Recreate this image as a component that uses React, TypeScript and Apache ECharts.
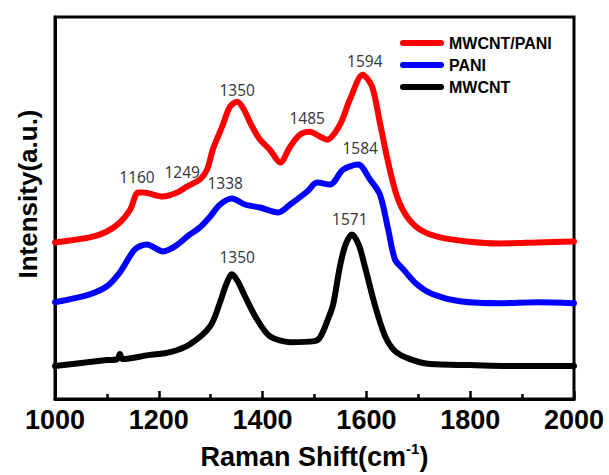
import React, { useEffect, useRef } from "react";
import * as echarts from "echarts";

// Wavenumber (cm-1) / intensity (a.u.) pairs
const mwcntPaniX = [1000, 1067, 1100, 1125, 1145, 1160, 1170, 1208, 1235, 1254, 1279, 1293, 1304, 1322, 1337, 1351, 1362, 1380, 1395, 1414, 1434, 1453, 1472, 1491, 1511, 1524, 1549, 1568, 1593, 1611, 1626, 1642, 1659, 1678, 1703, 1742, 1794, 1857, 1930, 2000];
const mwcntPaniY = [157, 162, 168, 177, 190, 207, 207, 203, 207, 213, 220, 230, 250, 273, 293, 298, 292, 273, 260, 250, 237, 253, 265, 268, 263, 260, 275, 300, 325, 313, 277, 237, 203, 183, 170, 162, 158, 156, 157, 158];

const paniX = [1000, 1067, 1100, 1125, 1154, 1177, 1208, 1231, 1260, 1279, 1299, 1318, 1341, 1366, 1395, 1430, 1453, 1486, 1505, 1530, 1555, 1584, 1607, 1626, 1642, 1655, 1671, 1697, 1728, 1780, 1857, 1930, 2000];
const paniY = [97, 105, 113, 127, 150, 155, 148, 153, 165, 172, 183, 195, 201, 195, 192, 187, 195, 208, 217, 215, 230, 235, 220, 205, 170, 140, 130, 115, 105, 98, 96, 97, 96];

const mwcntX = [1000, 1067, 1100, 1120, 1125, 1130, 1180, 1222, 1260, 1299, 1318, 1330, 1341, 1352, 1366, 1389, 1414, 1453, 1500, 1511, 1526, 1536, 1549, 1560, 1572, 1585, 1597, 1617, 1636, 1655, 1684, 1723, 1800, 1900, 2000];
const mwcntY = [33, 37, 39, 40, 45, 40, 44, 47, 55, 73, 97, 115, 125, 118, 103, 80, 63, 57, 58, 62, 80, 95, 133, 155, 165, 155, 133, 93, 63, 48, 40, 35, 34, 33, 33];

// Peak annotations: text, x (cm-1), y (a.u.)
const peakText = ["1160", "1249", "1338", "1350", "1485", "1594", "1584", "1571", "1350"];
const peakX = [1158, 1245, 1328, 1351, 1486, 1597, 1588, 1568, 1351];
const peakY = [223, 228, 217, 310, 282, 339, 252, 180, 142];

const seriesNames = ["MWCNT/PANI", "PANI", "MWCNT"];
const seriesColors = ["#ff0000", "#0000ff", "#000000"];

const xTicks = { min: 1000, max: 2000, interval: 200 };

const zip = (xs: number[], ys: number[]) => xs.map((x, i) => [x, ys[i]]);

export default function App() {
  const ref = useRef<HTMLDivElement>(null);
  useEffect(() => {
    if (!ref.current) return;
    const chart = echarts.init(ref.current, undefined, { renderer: "svg" });
    const data = [zip(mwcntPaniX, mwcntPaniY), zip(paniX, paniY), zip(mwcntX, mwcntY)];
    const lineSeries = seriesNames.map((name, i) => ({
      name,
      type: "line",
      data: data[i],
      showSymbol: false,
      symbol: "none",
      smooth: 0.3,
      color: seriesColors[i],
      lineStyle: { width: 6, color: seriesColors[i], cap: "round", join: "round" },
      z: 3 - i,
    }));
    const labelSeries = {
      type: "scatter",
      symbolSize: 0,
      silent: true,
      data: peakText.map((t, i) => ({ name: t, value: [peakX[i], peakY[i]] })),
      label: {
        show: true,
        position: "inside",
        formatter: (p: any) => p.name,
        fontFamily: "'Noto Sans', sans-serif",
        fontSize: 15.5,
        color: "#000",
      },
      z: 5,
    };
    chart.setOption({
      animation: false,
      backgroundColor: "#ffffff",
      grid: {
        left: 55,
        right: 35,
        top: 17,
        bottom: 75,
        show: true,
        borderColor: "#000",
        borderWidth: 3,
        backgroundColor: "transparent",
      },
      legend: {
        data: seriesNames,
        orient: "vertical",
        left: 400,
        top: 35,
        padding: 0,
        itemWidth: 44,
        itemHeight: 7,
        itemGap: 6,
        icon: "path://M3,0 L41,0 A3,3 0 0 1 41,6 L3,6 A3,3 0 0 1 3,0 Z",
        textStyle: {
          fontFamily: "'Liberation Sans', Arial, sans-serif",
          fontWeight: "bold",
          fontSize: 16,
          lineHeight: 16,
          color: "#000",
        },
      },
      xAxis: {
        type: "value",
        min: xTicks.min,
        max: xTicks.max,
        interval: xTicks.interval,
        name: "Raman Shift(cm{sup|-1})",
        nameLocation: "middle",
        nameGap: 42,
        nameTextStyle: {
          fontFamily: "'Liberation Sans', Arial, sans-serif",
          fontWeight: "bold",
          fontSize: 27,
          color: "#000",
          rich: {
            sup: {
              fontFamily: "'Liberation Sans', Arial, sans-serif",
              fontWeight: "bold",
              fontSize: 15,
              color: "#000",
              padding: [0, 0, 16, 0],
            },
          },
        },
        axisLine: { show: true, lineStyle: { color: "#000", width: 3 } },
        axisTick: { show: true, inside: true, length: 8, lineStyle: { color: "#000", width: 2.5 } },
        minorTick: { show: true, splitNumber: 2, length: 5, lineStyle: { color: "#000", width: 2.5 } },
        splitLine: { show: false },
        minorSplitLine: { show: false },
        axisLabel: {
          margin: 7,
          formatter: (v: number) => String(v),
          fontFamily: "'Liberation Sans', Arial, sans-serif",
          fontWeight: "bold",
          fontSize: 27,
          color: "#000",
        },
      },
      yAxis: {
        type: "value",
        min: 0,
        max: 383,
        name: "Intensity(a.u.)",
        nameLocation: "middle",
        nameRotate: 90,
        nameGap: 14,
        nameTextStyle: {
          fontFamily: "'Liberation Sans', Arial, sans-serif",
          fontWeight: "bold",
          fontSize: 26,
          color: "#000",
          padding: [0, 0, 0, 28],
        },
        axisLine: { show: true, lineStyle: { color: "#000", width: 3 } },
        axisTick: { show: false },
        axisLabel: { show: false },
        splitLine: { show: false },
      },
      series: [...lineSeries, labelSeries],
    });
    return () => chart.dispose();
  }, []);
  return (
    <div
      ref={ref}
      style={{ position: "fixed", left: 0, top: 0, width: 609, height: 475, background: "#fff" }}
    />
  );
}
